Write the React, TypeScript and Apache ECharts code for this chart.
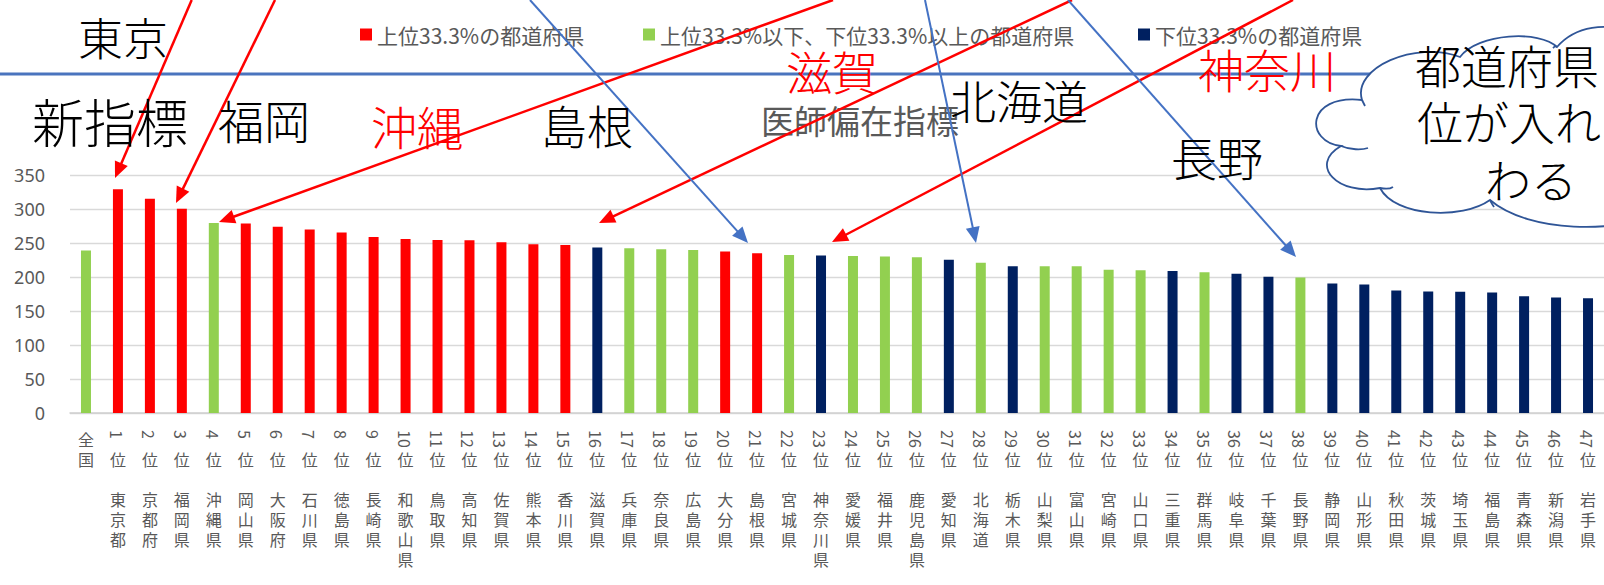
import React, { useEffect, useRef } from "react";
import * as echarts from "echarts";

// ---- data ----
const categories = ["全国", "東京都", "京都府", "福岡県", "沖縄県", "岡山県", "大阪府", "石川県", "徳島県", "長崎県", "和歌山県", "鳥取県", "高知県", "佐賀県", "熊本県", "香川県", "滋賀県", "兵庫県", "奈良県", "広島県", "大分県", "島根県", "宮城県", "神奈川県", "愛媛県", "福井県", "鹿児島県", "愛知県", "北海道", "栃木県", "山梨県", "富山県", "宮崎県", "山口県", "三重県", "群馬県", "岐阜県", "千葉県", "長野県", "静岡県", "山形県", "秋田県", "茨城県", "埼玉県", "福島県", "青森県", "新潟県", "岩手県"];
const rankNumbers = ["", "1", "2", "3", "4", "5", "6", "7", "8", "9", "10", "11", "12", "13", "14", "15", "16", "17", "18", "19", "20", "21", "22", "23", "24", "25", "26", "27", "28", "29", "30", "31", "32", "33", "34", "35", "36", "37", "38", "39", "40", "41", "42", "43", "44", "45", "46", "47"];
const values = [239, 329, 315, 300.5, 279.3, 278.8, 274, 269.7, 265.3, 259, 256, 254.5, 254, 251, 248.2, 247.2, 243.3, 242.3, 240.8, 239.8, 237.4, 235, 232.5, 231.5, 231, 230, 229, 225.2, 220.8, 215.9, 215.9, 215.9, 210.5, 210, 209, 207, 204.6, 200.2, 199.2, 190.4, 189, 180.1, 178.7, 178.2, 177.2, 171.8, 169.8, 168.9];
// T = 上位33.3%, M = 中間, B = 下位33.3%
const groups = ["M", "T", "T", "T", "M", "T", "T", "T", "T", "T", "T", "T", "T", "T", "T", "T", "B", "M", "M", "M", "T", "T", "M", "B", "M", "M", "M", "B", "M", "B", "M", "M", "M", "M", "B", "M", "B", "B", "M", "B", "B", "B", "B", "B", "B", "B", "B", "B"];
const groupKeys = ["T", "M", "B"];
const seriesNames = ["上位33.3%の都道府県", "上位33.3%以下、下位33.3%以上の都道府県", "下位33.3%の都道府県"];
const seriesColors = ["#FF0000", "#92D050", "#002060"];
const yTicks = { min: 0, max: 350, interval: 50 };
const chartTitle = "医師偏在指標";

// annotations
const notes = [
  { t: "東京", x: 123, y: 36, s: 45, c: "#000000" },
  { t: "新指標", x: 110, y: 120, s: 52, c: "#000000" },
  { t: "福岡", x: 264, y: 119, s: 46, c: "#000000" },
  { t: "沖縄", x: 417, y: 125, s: 46, c: "#FF0000" },
  { t: "島根", x: 587, y: 124, s: 46, c: "#000000" },
  { t: "滋賀", x: 832, y: 70, s: 46, c: "#FF0000" },
  { t: "北海道", x: 1019, y: 99, s: 46, c: "#000000" },
  { t: "神奈川", x: 1267, y: 68, s: 46, c: "#FF0000" },
  { t: "長野", x: 1217, y: 156, s: 46, c: "#000000" },
];
const redArrows = [
  [191.7, 0, 115, 178],
  [275, 0, 176, 203],
  [833, 0, 219, 222],
  [1072, 0, 599, 223],
  [1293, 0, 832, 242],
];
const blueArrows = [
  [530, 0, 748, 243],
  [925, 0, 976, 243],
  [1068, 0, 1296, 257],
];
const cloudLines = [
  { t: "都道府県", x: 1415, y: 64, align: "left" },
  { t: "位が入れ", x: 1417, y: 120, align: "left" },
  { t: "わる", x: 1531, y: 178, align: "center" },
];

const CLOUD_D =
  "M 1362 100 C 1352 68 1415 40 1460 57 C 1478 33 1540 30 1557 47 C 1575 26 1605 22 1640 32 L 1650 215 C 1620 232 1530 234 1490 200 C 1462 220 1395 217 1380 188 C 1338 196 1308 165 1341 146 C 1305 142 1305 94 1362 100 Z";
const STUB_D =
  "M 1341 146 C 1350 150 1362 150 1368 148 M 1380 188 C 1385 189 1390 189 1393 187 M 1490 200 C 1491 203 1493 205 1494 207 M 1557 47 C 1556 46 1554 47 1553 48 M 1362 100 C 1363 102 1364 104 1365 106";

let shapesRegistered = false;
function registerShapes() {
  if (shapesRegistered) return;
  echarts.graphic.registerShape("cloud", echarts.graphic.extendPath(CLOUD_D, {}));
  echarts.graphic.registerShape("cloudStubs", echarts.graphic.extendPath(STUB_D, {}));
  shapesRegistered = true;
}

const CJK = "'Noto Sans CJK JP', 'Noto Sans', sans-serif";

function arrowEls(a: number[], color: string, w: number) {
  const [x1, y1, x2, y2] = a;
  const dx = x2 - x1;
  const dy = y2 - y1;
  const L = Math.hypot(dx, dy);
  const ux = dx / L;
  const uy = dy / L;
  const hl = 16;
  const hw = 7;
  const bx = x2 - ux * hl;
  const by = y2 - uy * hl;
  return [
    { type: "line", z: 100, shape: { x1, y1, x2: bx + ux * 2, y2: by + uy * 2 }, style: { stroke: color, lineWidth: w } },
    {
      type: "polygon",
      z: 100,
      shape: { points: [[x2, y2], [bx - uy * hw, by + ux * hw], [bx + uy * hw, by - ux * hw]] },
      style: { fill: color },
    },
  ];
}

export default function App() {
  const ref = useRef<HTMLDivElement>(null);
  useEffect(() => {
    if (!ref.current) return;
    registerShapes();
    const chart = echarts.init(ref.current, null, { renderer: "svg" });

    const series: any[] = groupKeys.map((g, gi) => ({
      name: seriesNames[gi],
      type: "bar",
      stack: "all",
      barWidth: 10,
      itemStyle: { color: seriesColors[gi] },
      data: values.map((v, i) => (groups[i] === g ? v : "-")),
      xAxisIndex: 0,
      yAxisIndex: 0,
    }));

    // rank numbers drawn sideways (rotated clockwise) under each bar
    series.push({
      type: "custom",
      name: "rank",
      clip: false,
      silent: true,
      xAxisIndex: 0,
      yAxisIndex: 0,
      data: rankNumbers.map((r, i) => [i, 0]),
      renderItem: (params: any, api: any) => {
        const p = api.coord([api.value(0), 0]);
        const txt = rankNumbers[params.dataIndex];
        if (!txt) return null;
        return {
          type: "text",
          x: p[0] - 1,
          y: p[1] + 17,
          rotation: -Math.PI / 2,
          style: {
            text: txt,
            fill: "#595959",
            fontSize: 16,
            fontFamily: CJK,
            align: "left",
            verticalAlign: "middle",
          },
        };
      },
    });

    const legendBase = {
      orient: "horizontal",
      icon: "rect",
      itemWidth: 12,
      itemHeight: 12,
      itemGap: 0,
      padding: 0,
      top: 24,
      selectedMode: false,
      textStyle: { color: "#595959", fontSize: 21, fontFamily: CJK },
    };

    const graphicEls: any[] = [];
    graphicEls.push({
      type: "line",
      z: 90,
      shape: { x1: 0, y1: 74, x2: 1604, y2: 74 },
      style: { stroke: "#4A74BE", lineWidth: 3 },
    });
    graphicEls.push({
      type: "text",
      z: 95,
      style: {
        text: chartTitle,
        x: 860,
        y: 120,
        textAlign: "center",
        textVerticalAlign: "middle",
        fontSize: 33,
        fontFamily: CJK,
        fill: "#595959",
      },
    });
    notes.forEach((n) =>
      graphicEls.push({
        type: "text",
        z: 110,
        style: {
          text: n.t,
          x: n.x,
          y: n.y,
          textAlign: "center",
          textVerticalAlign: "middle",
          fontSize: n.s,
          fontWeight: 300,
          fontFamily: CJK,
          fill: n.c,
        },
      })
    );
    redArrows.forEach((a) => graphicEls.push(...arrowEls(a, "#FF0000", 2.5)));
    blueArrows.forEach((a) => graphicEls.push(...arrowEls(a, "#4472C4", 2)));
    graphicEls.push({
      type: "cloud",
      z: 120,
      x: 0,
      y: 0,
      scaleX: 1,
      scaleY: 1,
      style: { fill: "#FFFFFF", stroke: "#2F5597", lineWidth: 1.8 },
    });
    graphicEls.push({
      type: "cloudStubs",
      z: 121,
      x: 0,
      y: 0,
      scaleX: 1,
      scaleY: 1,
      style: { fill: null, stroke: "#2F5597", lineWidth: 1.8 },
    });
    cloudLines.forEach((c) =>
      graphicEls.push({
        type: "text",
        z: 130,
        style: {
          text: c.t,
          x: c.x,
          y: c.y,
          textAlign: c.align,
          textVerticalAlign: "middle",
          fontSize: 46,
          fontWeight: 300,
          fontFamily: CJK,
          fill: "#000000",
        },
      })
    );

    chart.setOption({
      animation: false,
      backgroundColor: "#FFFFFF",
      textStyle: { fontFamily: CJK },
      legend: [
        { ...legendBase, left: 360, data: [seriesNames[0]] },
        { ...legendBase, left: 643, data: [seriesNames[1]] },
        { ...legendBase, left: 1138, data: [seriesNames[2]] },
      ],
      grid: { left: 70, right: 0, top: 175, bottom: 172, containLabel: false },
      xAxis: [
        {
          type: "category",
          data: categories,
          position: "bottom",
          axisLine: { show: true, lineStyle: { color: "#D0D0D0", width: 1.5 } },
          axisTick: { show: false },
          axisLabel: {
            interval: 0,
            margin: 36,
            color: "#595959",
            fontSize: 16,
            lineHeight: 20,
            fontFamily: CJK,
            formatter: (v: string, i: number) =>
              i === 0 ? "国" : "位\n\n" + v.split("").join("\n"),
          },
        },
        {
          type: "category",
          data: categories,
          position: "bottom",
          axisLine: { show: false },
          axisTick: { show: false },
          axisLabel: {
            interval: 0,
            margin: 16,
            color: "#595959",
            fontSize: 16,
            lineHeight: 20,
            fontFamily: CJK,
            formatter: (v: string, i: number) => (i === 0 ? v.charAt(0) : ""),
          },
        },
      ],
      yAxis: {
        type: "value",
        min: yTicks.min,
        max: yTicks.max,
        interval: yTicks.interval,
        axisLine: { show: false },
        axisTick: { show: false },
        splitLine: { lineStyle: { color: "#D9D9D9", width: 1.3 } },
        axisLabel: { color: "#595959", fontSize: 18, margin: 25, fontFamily: "'Noto Sans', sans-serif" },
      },
      series,
      graphic: { elements: graphicEls },
    });

    return () => chart.dispose();
  }, []);

  return (
    <div
      ref={ref}
      style={{ position: "absolute", left: 0, top: 0, width: 1604, height: 585 }}
    />
  );
}
